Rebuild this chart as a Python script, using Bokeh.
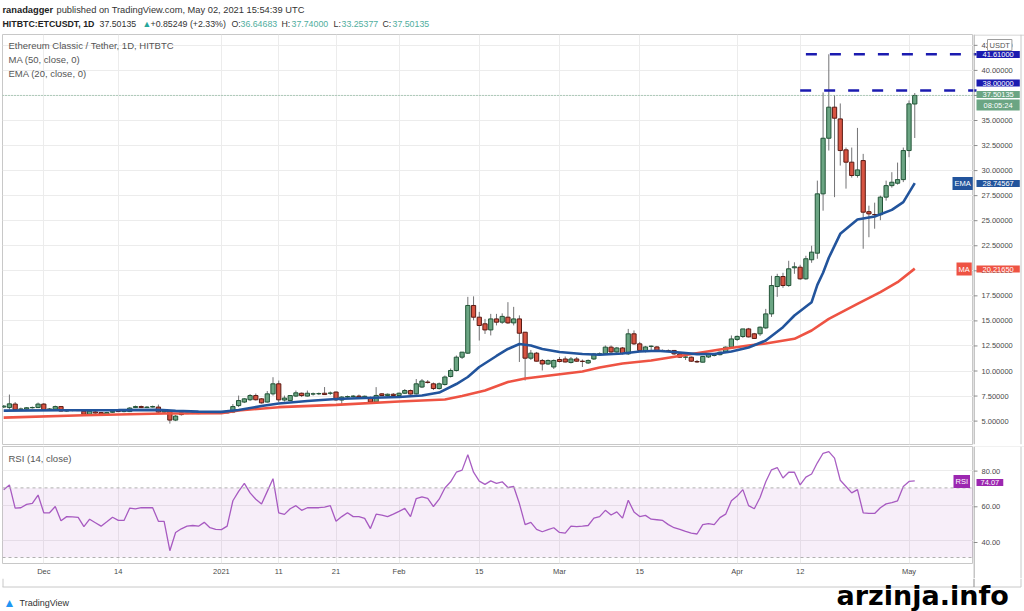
import pandas as pd
from bokeh.plotting import figure
from bokeh.layouts import column, row
from bokeh.models import (Range1d, FixedTicker, Span, Label, BoxAnnotation,
                          ColumnDataSource)
from bokeh.core.properties import value
from bokeh.embed import file_html
from bokeh.resources import INLINE

# ---------------- data ----------------
START = "2020-11-24"
END = "2021-05-02"

opens = [
    6.40, 6.35, 6.70, 6.15, 6.20, 6.33, 6.35, 6.70, 6.15, 6.18,
    6.45, 6.00, 6.06, 6.10, 6.00, 5.68, 5.92, 5.85, 5.68, 5.88,
    5.98, 5.95, 5.95, 6.35, 6.45, 6.35, 6.40, 6.40, 5.90, 6.05,
    5.10, 5.82, 5.75, 5.78, 5.85, 5.95, 5.95, 5.95, 5.88, 5.95,
    5.90, 6.55, 6.90, 7.13, 7.55, 7.22, 6.90, 7.72, 8.72, 7.10,
    7.05, 7.50, 7.78, 7.50, 7.70, 7.72, 7.78, 7.78, 7.90, 7.10,
    7.40, 7.45, 7.50, 7.42, 7.35, 6.90, 7.72, 7.55, 7.68, 7.55,
    7.78, 8.05, 7.72, 8.40, 8.90, 8.72, 8.25, 8.65, 9.45, 10.05,
    11.38, 11.78, 16.54, 15.37, 14.71, 14.10, 15.20, 14.87, 15.37, 14.80,
    15.20, 13.87, 11.28, 11.78, 11.05, 10.70, 10.40, 11.15, 11.20, 10.85,
    11.20, 10.98, 10.80, 11.20, 11.70, 11.71, 12.38, 11.90, 12.30, 11.71,
    13.71, 12.71, 11.95, 12.45, 12.40, 12.05, 12.02, 12.05, 11.71, 11.38,
    11.38, 10.95, 10.88, 11.40, 11.55, 11.63, 11.88, 12.38, 13.15, 13.44,
    14.20, 13.71, 13.71, 14.30, 15.70, 18.43, 19.43, 18.53, 20.30, 20.36,
    19.20, 21.10, 21.76, 27.68, 33.23, 36.33, 35.16, 32.07, 30.84, 29.51,
    31.00, 25.90, 25.62, 25.60, 27.35, 28.50, 28.74, 29.10, 32.00, 36.64683,
]
highs = [
    6.60, 7.65, 6.90, 6.35, 6.40, 6.45, 6.85, 6.80, 6.30, 6.55,
    6.50, 6.15, 6.15, 6.18, 6.05, 6.05, 6.00, 5.90, 5.92, 6.05,
    6.05, 6.05, 6.40, 6.55, 6.55, 6.50, 6.55, 6.65, 6.05, 6.10,
    5.60, 5.85, 5.85, 5.90, 5.95, 6.00, 6.00, 6.00, 5.95, 6.00,
    6.70, 7.55, 7.30, 7.70, 7.75, 7.30, 8.00, 9.38, 9.05, 7.55,
    7.60, 8.05, 7.85, 8.05, 7.85, 7.85, 8.40, 7.95, 7.95, 7.50,
    7.55, 7.60, 7.65, 7.55, 7.45, 8.39, 7.80, 7.75, 7.80, 7.85,
    8.20, 8.15, 9.20, 9.20, 9.10, 8.85, 8.85, 9.55, 10.25, 11.55,
    11.90, 17.40, 17.45, 15.90, 15.20, 15.70, 15.70, 15.75, 16.87, 16.40,
    15.55, 13.90, 12.10, 11.90, 11.20, 11.15, 11.15, 11.40, 11.45, 11.40,
    11.40, 11.15, 11.15, 11.80, 11.85, 12.55, 12.55, 12.40, 12.40, 14.20,
    14.05, 12.90, 12.50, 12.55, 12.50, 12.15, 12.15, 12.10, 11.80, 11.55,
    11.45, 11.10, 11.50, 11.80, 11.75, 11.95, 12.45, 13.55, 13.55, 14.20,
    14.30, 13.80, 14.45, 16.20, 19.50, 19.70, 19.80, 21.00, 20.85, 20.60,
    21.50, 22.50, 29.00, 37.80, 41.61, 37.50, 36.70, 32.30, 32.30, 34.26,
    31.67, 26.50, 26.80, 27.50, 29.00, 29.84, 30.80, 32.30, 37.00, 37.74,
]
lows = [
    6.30, 6.15, 6.00, 6.05, 6.12, 6.25, 6.30, 6.05, 6.05, 6.10,
    5.95, 5.92, 5.98, 6.00, 5.62, 5.60, 5.75, 5.62, 5.65, 5.82,
    5.90, 5.88, 5.90, 6.30, 6.30, 6.30, 6.35, 5.70, 5.80, 4.75,
    5.00, 5.55, 5.70, 5.70, 5.70, 5.75, 5.75, 5.78, 5.80, 5.78,
    5.80, 6.40, 6.80, 7.00, 7.05, 6.75, 6.85, 7.55, 6.90, 6.95,
    7.00, 7.40, 7.40, 7.45, 7.55, 7.60, 7.65, 7.60, 7.00, 6.72,
    7.30, 7.35, 7.35, 7.35, 6.85, 6.85, 7.50, 7.45, 7.45, 7.45,
    7.70, 7.65, 7.65, 8.30, 8.75, 8.10, 8.15, 8.55, 9.35, 9.95,
    11.20, 11.70, 15.05, 13.04, 13.70, 13.55, 14.55, 14.70, 14.70, 14.55,
    10.90, 9.05, 11.10, 10.95, 10.05, 10.60, 10.20, 10.85, 10.85, 10.75,
    10.90, 10.40, 10.70, 11.10, 11.55, 11.60, 11.80, 11.80, 11.65, 11.60,
    12.60, 11.95, 11.85, 12.05, 11.90, 11.90, 11.95, 11.60, 11.30, 11.10,
    10.90, 10.80, 10.85, 11.30, 11.45, 11.55, 11.80, 12.30, 13.00, 13.30,
    13.35, 13.20, 13.50, 14.20, 15.40, 17.40, 18.30, 18.40, 19.70, 19.10,
    19.10, 20.80, 21.20, 26.00, 32.00, 27.35, 30.50, 28.20, 29.30, 29.30,
    22.20, 23.35, 24.20, 25.05, 27.00, 28.30, 28.60, 28.85, 31.34, 33.25377,
]
closes = [
    6.50, 6.72, 6.15, 6.22, 6.33, 6.36, 6.70, 6.15, 6.22, 6.45,
    6.00, 6.08, 6.10, 6.05, 5.68, 6.00, 5.80, 5.68, 5.85, 5.98,
    5.95, 6.00, 6.30, 6.45, 6.35, 6.40, 6.45, 5.90, 6.00, 5.10,
    5.50, 5.65, 5.78, 5.80, 5.75, 5.80, 5.80, 5.82, 5.85, 5.82,
    6.45, 7.05, 7.22, 7.55, 7.13, 6.82, 7.72, 8.72, 7.12, 7.30,
    7.55, 7.82, 7.55, 7.78, 7.72, 7.75, 7.65, 7.80, 7.12, 7.40,
    7.45, 7.50, 7.42, 7.48, 6.90, 7.56, 7.55, 7.68, 7.55, 7.78,
    8.05, 7.70, 8.72, 9.00, 8.85, 8.25, 8.72, 9.40, 10.05, 11.38,
    11.88, 16.54, 15.37, 14.54, 14.10, 15.20, 14.87, 15.45, 14.80, 15.20,
    13.77, 11.28, 11.78, 10.98, 10.70, 11.05, 11.05, 10.95, 10.90, 11.20,
    10.98, 10.95, 11.05, 11.70, 11.72, 12.38, 11.90, 12.30, 11.75, 13.71,
    12.71, 12.05, 12.40, 12.48, 11.95, 12.00, 12.00, 11.71, 11.38, 11.40,
    10.98, 10.90, 11.45, 11.70, 11.55, 11.88, 12.38, 13.20, 13.45, 14.20,
    13.40, 13.25, 14.37, 15.70, 18.53, 19.43, 18.53, 20.20, 20.40, 19.20,
    21.20, 21.86, 27.68, 33.23, 36.33, 35.23, 32.00, 30.84, 29.51, 30.07,
    25.85, 25.68, 25.60, 27.35, 28.50, 28.84, 29.10, 32.00, 36.66, 37.50135,
]

# moving averages, read as vertices (day index, value)
ma_days = [0, 14, 28, 38, 41, 48, 58, 69, 77, 80, 84, 88, 91, 96, 101, 104, 108, 113, 119, 125,
           130, 133, 138, 141, 144, 149, 153, 156, 159]
ma_vals = [5.35, 5.58, 5.76, 5.79, 6.06, 6.39, 6.62, 6.95, 7.15, 7.50, 8.05, 8.90, 9.25, 9.60,
           9.95, 10.35, 10.75, 11.05, 11.60, 12.15, 12.55, 12.75, 13.21, 14.04, 15.20, 16.70,
           17.87, 18.86, 20.2165]
ema_days = [0, 10, 20, 27, 30, 34, 38, 41, 45, 48, 53, 58, 63, 69, 73, 76, 79, 81, 83, 86,
            88, 90, 92, 94, 97, 101, 104, 108, 111, 114, 117, 121, 124, 127, 130, 133, 136, 138,
            141, 142, 143, 144, 146, 149, 152, 155, 157, 159]
ema_vals = [6.05, 6.08, 6.10, 6.12, 6.02, 5.95, 5.92, 6.10, 6.50, 6.75, 7.00, 7.20, 7.30, 7.40,
            7.55, 7.85, 8.70, 9.40, 10.40, 11.50, 12.20, 12.70, 12.55, 12.20, 11.90, 11.70, 11.62,
            11.75, 11.95, 12.02, 11.90, 11.68, 11.70, 11.95, 12.35, 13.04, 14.37, 15.54, 16.87,
            18.60, 19.80, 21.30, 23.69, 25.12, 25.42, 26.08, 26.85, 28.74567]

rsi_vals = [
    69.0, 71.7, 58.4, 58.6, 60.5, 61.1, 65.9, 55.7, 55.7, 59.3,
    51.1, 53.5, 53.3, 53.1, 47.7, 52.0, 50.0, 48.0, 50.5, 53.1,
    51.3, 51.3, 58.4, 58.0, 58.6, 58.6, 58.6, 50.8, 50.8, 33.9,
    44.4, 46.5, 48.0, 48.4, 48.0, 50.2, 47.1, 46.2, 46.0, 48.0,
    62.6, 68.0, 72.6, 67.1, 63.5, 60.8, 68.0, 75.3, 55.7, 54.8,
    58.0, 59.8, 57.1, 58.6, 58.6, 58.6, 59.0, 59.8, 50.8, 53.5,
    55.7, 53.5, 53.5, 52.5, 46.6, 54.9, 54.4, 53.5, 54.9, 56.5,
    58.2, 53.5, 63.9, 64.8, 64.0, 59.3, 63.5, 69.9, 73.5, 79.0,
    80.2, 89.0, 79.0, 73.9, 72.0, 74.0, 72.6, 73.5, 70.2, 70.8,
    61.0, 48.9, 50.2, 46.2, 44.8, 46.0, 47.1, 44.4, 44.0, 48.0,
    47.7, 48.0, 48.4, 52.6, 53.5, 57.1, 54.4, 56.2, 52.6, 62.9,
    56.2, 53.5, 54.2, 52.0, 51.7, 51.3, 48.9, 47.1, 46.2, 45.0,
    44.0, 43.5, 48.9, 49.5, 48.9, 52.9, 54.9, 62.6, 65.3, 69.0,
    59.8, 58.0, 64.5, 73.5, 80.4, 81.7, 75.7, 79.0, 79.0, 71.7,
    76.2, 78.0, 84.4, 89.9, 90.8, 87.1, 74.4, 70.8, 67.1, 69.0,
    55.7, 55.3, 55.3, 58.6, 60.8, 61.6, 62.6, 70.8, 73.7, 74.07,
]

level_prices = [41.61, 38.0]
level_start_dates = ["2021-04-13", "2021-04-12"]

price_ticks = [5.0, 7.5, 10.0, 12.5, 15.0, 17.5, 20.0, 22.5, 25.0, 27.5, 30.0, 32.5, 35.0, 37.5, 40.0, 42.5]
rsi_ticks = [40, 60, 80]
tick_dates = ["2020-12-01", "2020-12-14", "2021-01-01", "2021-01-11", "2021-01-21", "2021-02-01",
              "2021-02-15", "2021-03-01", "2021-03-15", "2021-04-01", "2021-04-12", "2021-05-01"]
tick_labels = ["Dec", "14", "2021", "11", "21", "Feb", "15", "Mar", "15", "Apr", "12", "May"]

# ---------------- derived ----------------
dates = pd.date_range(START, END, freq="D")
n = len(dates)
assert all(len(a) == n for a in (opens, highs, lows, closes, rsi_vals))
start = pd.Timestamp(START)
days = list(range(n))
def day_of(s):
    return (pd.Timestamp(s) - start).days
tick_days = [day_of(s) for s in tick_dates]
level_start = [day_of(s) for s in level_start_dates]

UP, DN = "#6ba583", "#d75442"
UPB, DNB = "#225437", "#5b1a13"
up = [c >= o for o, c in zip(opens, closes)]
src = ColumnDataSource(dict(
    day=days, high=highs, low=lows,
    top=[max(o, c) for o, c in zip(opens, closes)],
    bottom=[min(o, c) for o, c in zip(opens, closes)],
    fill=[UP if u else DN for u in up],
    line=[UPB if u else DNB for u in up],
))

# ---------------- layout helpers (pixel positions -> data units) ----------------
PX0, PXD = 3.19, 5.73
def dx(px):
    return (px - PX0) / PXD
def pm(py):
    return 10 + (370.5 - py) / 10.02
def pr(py):
    return 80 - (py - 470.6) / 1.785

FONT = "Liberation Sans"
GRID = "#ececec"
FRAME = "#c8c8c8"
AXC = "#4a4a4a"
AXL = "#8c8c8c"
BLUE_LVL = "#1b1bb0"
EMA_C = "#22549c"
MA_C = "#ee5343"
RSI_C = "#9c27b0"

def lab(fig, x, y, text, size="9.5px", color="#333333", bold=False, align="left",
        bg=None, pad=0, font=FONT, border=None, baseline="middle"):
    fig.add_layout(Label(x=x, y=y, text=text, text_font_size=size,
                         text_color=color, text_font_style="bold" if bold else "normal",
                         text_align=align, text_baseline=baseline, text_font=font,
                         background_fill_color=bg, padding=pad,
                         border_line_color=border))

def bare(fig):
    fig.grid.visible = False
    return fig

def unalign(fig):
    if "frame_align" in fig.properties():
        fig.frame_align = False
        return True
    return False

COMMON = dict(output_backend="svg", toolbar_location=None,
              background_fill_color="white", border_fill_color="white")

xr = Range1d(dx(2), dx(973))

# ---------------- header strip ----------------
h = bare(figure(width=1024, height=34, x_range=Range1d(0, 1024), y_range=Range1d(34, 0),
                min_border=0, x_axis_location=None, y_axis_location=None,
                outline_line_color=None, **COMMON))
unalign(h)
lab(h, 2, 9, "ranadagger", size="9.3px", bold=True, color="#222222")
lab(h, 56, 9, "published on TradingView.com, May 02, 2021 15:54:39 UTC", size="9.3px")
TEAL = "#4fae9e"
hdr = [(2, "HITBTC:ETCUSDT, 1D", "#222222", True), (99, "37.50135", "#333333", False),
       (142, "\u25B2", "#26a69a", False), (150, "+0.85249 (+2.33%)", "#333333", False),
       (231, "O:", "#333333", False), (240, "36.64683", TEAL, False),
       (281, "H:", "#333333", False), (291, "37.74000", TEAL, False),
       (333, "L:", "#333333", False), (341, "33.25377", TEAL, False),
       (382, "C:", "#333333", False), (392, "37.50135", TEAL, False)]
for xpx, t, c, b in hdr:
    lab(h, xpx, 23, t, size="8.8px", color=c, bold=b)

# ---------------- main price pane ----------------
p = figure(width=973, height=411, x_range=xr, y_range=Range1d(pm(444), pm(34)),
           x_axis_location=None, y_axis_location=None, min_border_left=2, min_border_right=0,
           min_border_top=0, min_border_bottom=1, outline_line_color=FRAME, **COMMON)
p.ygrid.ticker = FixedTicker(ticks=price_ticks)
p.ygrid.grid_line_color = GRID
p.xgrid.ticker = FixedTicker(ticks=tick_days)
p.xgrid.grid_line_color = GRID

p.segment(x0="day", y0="low", x1="day", y1="high", source=src, line_color="#737375", line_width=1)
p.vbar(x="day", width=0.74, top="top", bottom="bottom", fill_color="fill", line_color="line",
       line_width=1, source=src)
p.line(ma_days, ma_vals, line_color=MA_C, line_width=2.6)
p.line(ema_days, ema_vals, line_color=EMA_C, line_width=2.6)
p.segment(x0=level_start, y0=level_prices, x1=[dx(980)] * 2, y1=level_prices,
          line_color=BLUE_LVL, line_width=2.5, line_dash="11 13")
p.add_layout(Span(location=closes[-1], dimension="width", line_color="#6ba583",
                  line_dash="1 2", line_width=1))

lab(p, dx(8), pm(45), "Ethereum Classic / Tether, 1D, HITBTC", color="#555555")
lab(p, dx(8), pm(59), "MA (50, close, 0)", color="#555555")
lab(p, dx(8), pm(73), "EMA (20, close, 0)", color="#555555")
lab(p, dx(952), pm(183), "EMA", size="7.5px", color="white", bg=EMA_C, pad=2)
lab(p, dx(956), pm(268.5), "MA", size="7.5px", color="white", bg=MA_C, pad=2)

# ---------------- price axis strip ----------------
ax = bare(figure(width=51, height=411, x_range=Range1d(973, 1024), y_range=p.y_range,
                 min_border=0, min_border_bottom=1, x_axis_location=None, y_axis_location=None,
                 outline_line_color=None, **COMMON))
ax.add_layout(Span(location=973.5, dimension="height", line_color=AXL, line_width=1))
ax.add_layout(Span(location=1020.5, dimension="height", line_color=FRAME, line_width=1))
ax.add_layout(Span(location=pm(34.5), dimension="width", line_color=FRAME, line_width=1))
ax.segment(x0=[973] * len(price_ticks), x1=[977] * len(price_ticks), y0=price_ticks, y1=price_ticks,
           line_color=AXL)
ax.text(x=[981] * len(price_ticks), y=price_ticks, text=[f"{t:.5f}" for t in price_ticks],
        text_font=value(FONT), text_font_size="7.5px", text_color=AXC, text_baseline="middle")
ax.segment(x0=[973] * 2, x1=[976] * 2, y0=level_prices, y1=level_prices, line_color=BLUE_LVL, line_width=2.5)
lab(ax, 987, pm(44.5), "USDT", size="7.5px", color="#555555", bg="white", pad=(2, 1), border="#9e9e9e")
lab(ax, 976, pm(54), "41.61000", size="7.5px", color="white", bg=BLUE_LVL, pad=(6, 1))
lab(ax, 976, pm(82.5), "38.00000", size="7.5px", color="white", bg=BLUE_LVL, pad=(6, 1))
lab(ax, 976, pm(94), "37.50135", size="7.5px", color="white", bg=UP, pad=(6, 1))
lab(ax, 976, pm(104.5), "08:05:24", size="7.5px", color="white", bg=UP, pad=(7, 1))
lab(ax, 976, pm(183), "28.74567", size="7.5px", color="white", bg=EMA_C, pad=(6, 1))
lab(ax, 976, pm(268.5), "20.21650", size="7.5px", color="white", bg=MA_C, pad=(6, 1))

# ---------------- RSI pane ----------------
rf = figure(width=973, height=133, x_range=xr, y_range=Range1d(pr(566), pr(446)),
            y_axis_location=None, min_border_left=2, min_border_right=0, min_border_top=1,
            min_border_bottom=12, outline_line_color=FRAME, **COMMON)
rf.xaxis.ticker = FixedTicker(ticks=tick_days)
rf.xaxis.major_label_overrides = {d: t for d, t in zip(tick_days, tick_labels)}
rf.xaxis.major_label_text_font_size = "7.5px"
rf.xaxis.major_label_text_font = FONT
rf.xaxis.major_label_text_color = AXC
rf.xaxis.axis_line_color = None
rf.xaxis.major_tick_line_color = None
rf.xaxis.minor_tick_line_color = None
rf.xaxis.major_tick_out = 0
rf.xaxis.major_label_standoff = 3
rf.ygrid.ticker = FixedTicker(ticks=rsi_ticks)
rf.ygrid.grid_line_color = GRID
rf.xgrid.ticker = FixedTicker(ticks=tick_days)
rf.xgrid.grid_line_color = GRID

rf.add_layout(BoxAnnotation(bottom=30, top=70, fill_color=RSI_C, fill_alpha=0.08, line_color=None))
for lv in (70, 30):
    rf.add_layout(Span(location=lv, dimension="width", line_color="#b0b0b0", line_dash="3 3", line_width=1))
rf.line(days, rsi_vals, line_color="#a95fc3", line_width=1.3)
lab(rf, dx(8), pr(458), "RSI (14, close)", color="#555555")
lab(rf, dx(953), pr(482), "RSI", size="7.5px", color="white", bg=RSI_C, pad=2)

# ---------------- RSI axis strip ----------------
rax = bare(figure(width=51, height=133, x_range=Range1d(973, 1024), y_range=Range1d(pr(578), pr(446)),
                  min_border=0, min_border_top=1, x_axis_location=None, y_axis_location=None,
                  outline_line_color=None, **COMMON))
if not unalign(rax):
    rax.y_range = rf.y_range
rax.add_layout(Span(location=973.5, dimension="height", line_color=AXL, line_width=1))
rax.add_layout(Span(location=1020.5, dimension="height", line_color=FRAME, line_width=1))
rax.add_layout(Span(location=pr(445.5), dimension="width", line_color=FRAME, line_width=1))
rax.segment(x0=[973] * 3, x1=[977] * 3, y0=rsi_ticks, y1=rsi_ticks, line_color=AXL)
rax.text(x=[981] * 3, y=rsi_ticks, text=[f"{t:.2f}" for t in rsi_ticks],
         text_font=value(FONT), text_font_size="7.5px", text_color=AXC, text_baseline="middle")
lab(rax, 976, pr(482), "74.07", size="7.5px", color="white", bg=RSI_C, pad=(4, 1))

# ---------------- bottom strip ----------------
bf = bare(figure(width=1024, height=33, x_range=Range1d(0, 1024), y_range=Range1d(611, 578),
                 min_border=0, x_axis_location=None, y_axis_location=None,
                 outline_line_color=None, **COMMON))
unalign(bf)
bf.segment(x0=[2, 2.5, 973.5, 1020.5], y0=[586.5, 578, 578, 578],
           x1=[1020.5, 2.5, 973.5, 1020.5], y1=[586.5, 586.5, 586.5, 586.5],
           line_color=[FRAME, FRAME, AXL, FRAME], line_width=1)
lab(bf, 3, 602, "\u25B2", size="12px", color="#2196f3")
lab(bf, 19, 602, "TradingView", size="9px", color="#333333")
lab(bf, 836, 595, "arzinja.info", size="27px", color="#000000", bold=True, font="DejaVu Sans")

layout = column(h, row(p, ax), row(rf, rax), bf)
open("out.html", "w").write(file_html(layout, INLINE))
